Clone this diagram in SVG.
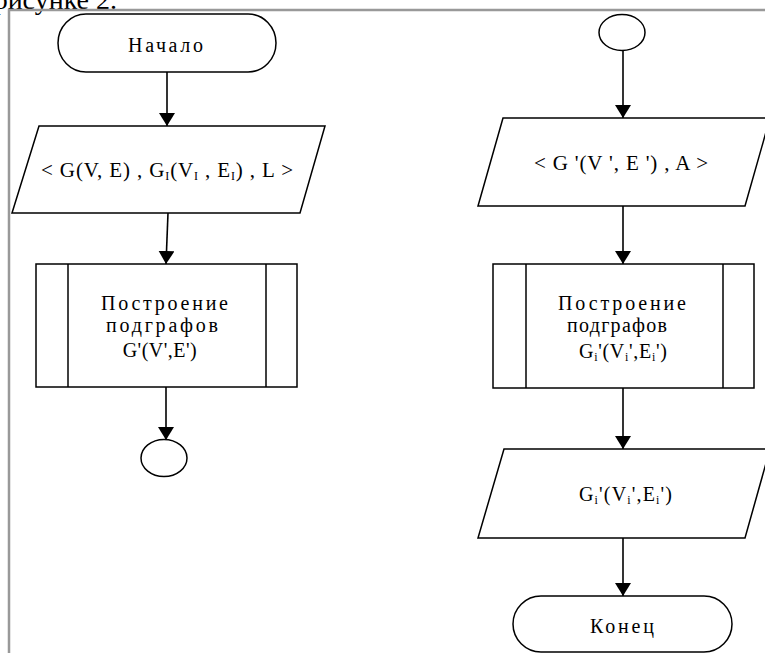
<svg xmlns="http://www.w3.org/2000/svg" width="765" height="653" viewBox="0 0 765 653">
<style>
.s{fill:#fff;stroke:#000;stroke-width:1.5}
.l{fill:none;stroke:#000;stroke-width:1.5}
.c{fill:none;stroke:#000;stroke-width:1.6}
text{font-family:"Liberation Serif","Times New Roman",serif;font-size:20px;fill:#000;text-anchor:middle}
.f{font-size:21px}
.sub{font-size:12px}
</style>
<defs>
<marker id="ah" viewBox="0 0 13 16" refX="13" refY="8" markerWidth="13" markerHeight="16" markerUnits="userSpaceOnUse" orient="auto">
<path d="M0,0 L13,8 L0,16 z" fill="#000"/>
</marker>
</defs>
<rect width="765" height="653" fill="#fff"/>
<text x="117" y="9" style="font-size:28px;text-anchor:end">рисунке 2.</text>
<path d="M9,661 V10 H770" fill="none" stroke="#999" stroke-width="2.5"/>

<g id="connectors">
<line class="c" x1="167" y1="72" x2="167" y2="126" marker-end="url(#ah)"/>
<line class="c" x1="168" y1="213" x2="166" y2="264" marker-end="url(#ah)"/>
<line class="c" x1="166" y1="387" x2="166" y2="440" marker-end="url(#ah)"/>
<line class="c" x1="623" y1="50" x2="623" y2="118" marker-end="url(#ah)"/>
<line class="c" x1="623" y1="206" x2="623" y2="264" marker-end="url(#ah)"/>
<line class="c" x1="623" y1="388" x2="623" y2="449" marker-end="url(#ah)"/>
<line class="c" x1="623" y1="538" x2="623" y2="596" marker-end="url(#ah)"/>
</g>

<g id="start">
<rect class="s" x="58" y="14" width="218" height="58" rx="28" ry="29"/>
<text x="165.5" y="52" textLength="75" lengthAdjust="spacing">Начало</text>
</g>

<g id="input1">
<polygon class="s" points="39,126 325,126 300,213 12,213"/>
<text class="f" x="167" y="177" textLength="252" lengthAdjust="spacing">&lt; G(V, E) , G<tspan class="sub" dy="3">I</tspan><tspan dy="-3">(V</tspan><tspan class="sub" dy="3">I</tspan><tspan dy="-3"> , E</tspan><tspan class="sub" dy="3">I</tspan><tspan dy="-3">) , L &gt;</tspan></text>
</g>

<g id="proc1">
<rect class="s" x="36" y="264" width="261" height="123"/>
<line class="l" x1="68" y1="264" x2="68" y2="387"/>
<line class="l" x1="266" y1="264" x2="266" y2="387"/>
<text x="164.5" y="310" textLength="127" lengthAdjust="spacing">Построение</text>
<text x="162" y="332" textLength="112" lengthAdjust="spacing">подграфов</text>
<text x="159.7" y="357" textLength="74" lengthAdjust="spacing">G'(V',E')</text>
</g>

<g id="connector1">
<ellipse class="s" cx="164" cy="458" rx="23" ry="18.5"/>
</g>

<g id="connector2">
<ellipse class="s" cx="622" cy="32.5" rx="23" ry="18"/>
</g>

<g id="input2">
<polygon class="s" points="503,118 770,118 745,206 478,206"/>
<text class="f" x="621" y="170" textLength="174" lengthAdjust="spacing">&lt; G '(V ', E ') , A &gt;</text>
</g>

<g id="proc2">
<rect class="s" x="493" y="264" width="261" height="124"/>
<line class="l" x1="526" y1="264" x2="526" y2="388"/>
<line class="l" x1="723" y1="264" x2="723" y2="388"/>
<text x="622" y="310" textLength="128" lengthAdjust="spacing">Построение</text>
<text x="617" y="332" textLength="100" lengthAdjust="spacing">подграфов</text>
<text x="623" y="358" textLength="88" lengthAdjust="spacing">G<tspan class="sub" dy="3">i</tspan><tspan dy="-3">'(V</tspan><tspan class="sub" dy="3">i</tspan><tspan dy="-3">',E</tspan><tspan class="sub" dy="3">i</tspan><tspan dy="-3">')</tspan></text>
</g>

<g id="output">
<polygon class="s" points="504,449 770,449 745,538 478,538"/>
<text x="625.5" y="501" textLength="93" lengthAdjust="spacing">G<tspan class="sub" dy="3">i</tspan><tspan dy="-3">'(V</tspan><tspan class="sub" dy="3">i</tspan><tspan dy="-3">',E</tspan><tspan class="sub" dy="3">i</tspan><tspan dy="-3">')</tspan></text>
</g>

<g id="end">
<rect class="s" x="513" y="596" width="219" height="56" rx="28" ry="28"/>
<text x="622" y="633" textLength="64" lengthAdjust="spacing">Конец</text>
</g>
</svg>
